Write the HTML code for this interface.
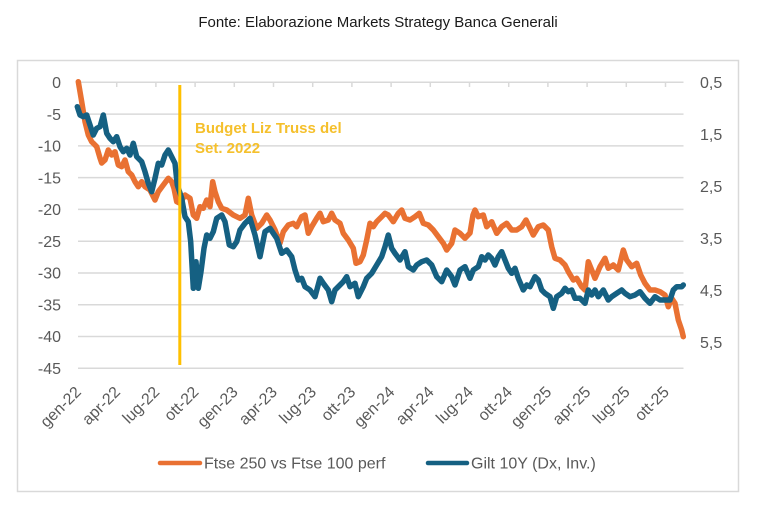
<!DOCTYPE html>
<html><head><meta charset="utf-8"><style>
html,body{margin:0;padding:0;background:#fff;}
body{width:763px;height:520px;overflow:hidden;}
svg{display:block;font-family:"Liberation Sans",Arial,sans-serif;}
</style></head><body>
<svg width="763" height="520" viewBox="0 0 763 520" xmlns="http://www.w3.org/2000/svg">
<rect x="0" y="0" width="763" height="520" fill="#fff"/>
<text x="378" y="27" font-size="15" fill="#1a1a1a" text-anchor="middle">Fonte: Elaborazione Markets Strategy Banca Generali</text>
<rect x="17.5" y="60.5" width="721" height="431" fill="#fff" stroke="#d9d9d9" stroke-width="1.5"/>
<g stroke="#d9d9d9" stroke-width="1.5">
<line x1="78" y1="82.3" x2="683.5" y2="82.3"/>
<line x1="78" y1="114.1" x2="683.5" y2="114.1"/>
<line x1="78" y1="145.9" x2="683.5" y2="145.9"/>
<line x1="78" y1="177.6" x2="683.5" y2="177.6"/>
<line x1="78" y1="209.4" x2="683.5" y2="209.4"/>
<line x1="78" y1="241.2" x2="683.5" y2="241.2"/>
<line x1="78" y1="273" x2="683.5" y2="273"/>
<line x1="78" y1="304.8" x2="683.5" y2="304.8"/>
<line x1="78" y1="336.5" x2="683.5" y2="336.5"/>
<line x1="78" y1="368.3" x2="683.5" y2="368.3"/>
</g>
<g stroke="#d9d9d9" stroke-width="1.5">
<line x1="116.7" y1="82" x2="116.7" y2="87"/><line x1="155.9" y1="82" x2="155.9" y2="87"/><line x1="195.1" y1="82" x2="195.1" y2="87"/><line x1="234.3" y1="82" x2="234.3" y2="87"/><line x1="273.5" y1="82" x2="273.5" y2="87"/><line x1="312.7" y1="82" x2="312.7" y2="87"/><line x1="351.9" y1="82" x2="351.9" y2="87"/><line x1="391.1" y1="82" x2="391.1" y2="87"/><line x1="430.3" y1="82" x2="430.3" y2="87"/><line x1="469.5" y1="82" x2="469.5" y2="87"/><line x1="508.7" y1="82" x2="508.7" y2="87"/><line x1="547.9" y1="82" x2="547.9" y2="87"/><line x1="587.1" y1="82" x2="587.1" y2="87"/><line x1="626.3" y1="82" x2="626.3" y2="87"/><line x1="665.5" y1="82" x2="665.5" y2="87"/>
</g>
<g font-size="16" fill="#595959" text-anchor="end">
<text x="61" y="88">0</text>
<text x="61" y="120">-5</text>
<text x="61" y="151.5">-10</text>
<text x="61" y="183.3">-15</text>
<text x="61" y="215">-20</text>
<text x="61" y="246.8">-25</text>
<text x="61" y="278.6">-30</text>
<text x="61" y="310.4">-35</text>
<text x="61" y="342.1">-40</text>
<text x="61" y="373.9">-45</text>
</g>
<g font-size="16" fill="#595959">
<text x="700" y="88">0,5</text>
<text x="700" y="140">1,5</text>
<text x="700" y="192">2,5</text>
<text x="700" y="244">3,5</text>
<text x="700" y="296">4,5</text>
<text x="700" y="348">5,5</text>
</g>
<g font-size="16" fill="#595959" text-anchor="end">
<text transform="translate(82,393) rotate(-45)">gen-22</text>
<text transform="translate(121.2,393) rotate(-45)">apr-22</text>
<text transform="translate(160.4,393) rotate(-45)">lug-22</text>
<text transform="translate(199.6,393) rotate(-45)">ott-22</text>
<text transform="translate(238.8,393) rotate(-45)">gen-23</text>
<text transform="translate(278,393) rotate(-45)">apr-23</text>
<text transform="translate(317.2,393) rotate(-45)">lug-23</text>
<text transform="translate(356.4,393) rotate(-45)">ott-23</text>
<text transform="translate(395.6,393) rotate(-45)">gen-24</text>
<text transform="translate(434.8,393) rotate(-45)">apr-24</text>
<text transform="translate(474,393) rotate(-45)">lug-24</text>
<text transform="translate(513.2,393) rotate(-45)">ott-24</text>
<text transform="translate(552.4,393) rotate(-45)">gen-25</text>
<text transform="translate(591.6,393) rotate(-45)">apr-25</text>
<text transform="translate(630.8,393) rotate(-45)">lug-25</text>
<text transform="translate(670,393) rotate(-45)">ott-25</text>
</g>
<polyline fill="none" stroke="#E97132" stroke-width="5.5" stroke-linejoin="round" stroke-linecap="round" points="78.3,81.7 81.7,101.7 85,121.7 88.3,135 91.7,141.7 96.7,146.7 100,158 101.7,163 105,160 108.3,150 111.7,155 115,151.7 118.3,165 121.7,166.7 125,160 128.3,171.7 131.7,175 135,181.7 138.3,186.7 141.7,181.7 145,186.7 150,190 155,200 158.3,191.7 163.3,185 168.3,178.3 171.7,181.7 174,188.3 176.7,201.7 180,203.3 185,195 190,198.3 193.3,215 196.7,218.3 200,206.7 203.3,208.3 206.7,200 210,206.7 212.7,181.7 215,191.7 218.3,201.7 221.7,208.3 226.7,210 233.3,215 240,218.3 245,215 248.3,198.3 251.7,215 256.7,228.3 261.7,223.3 266.7,215 270,220 275,230 280,243.3 283.3,231.7 288.3,225 293.3,223.3 296.7,226.7 301.7,216.7 305,215 308.3,233.3 311.7,226.7 316.7,218.3 320,213.3 323.3,221.7 328.3,220 331.7,213.3 335,220 340,223.3 343.3,233.3 348.3,240 353.3,248.3 356,263.3 360,261.7 363.3,255 366.7,240 370,223.3 373.3,226.7 376.7,221.7 381.7,216.7 385,213.3 388.3,215 393.3,221.7 398.3,213.3 401.7,210 405,218.3 410,220 415,216.7 419.3,213.3 423.3,223.3 428.3,225 433.3,230 438.3,236.7 443.3,243.3 446.7,250 451.7,243.3 455,230 460,233.3 465,238.3 470,233 473,215 475,210 478.3,216.7 483.3,215 486.7,226.7 491.7,221.7 496.7,233.3 501.7,226.7 506.7,223.3 511.7,230 516.7,230 521.7,226.7 526,220 529.3,226.7 533.3,235 538.3,226.7 543.3,225 548.3,230 551.7,246.7 555,258.3 560,260 565,265 568.3,271.7 573.3,280 576.7,278.3 581.7,286.7 585,290 588.3,261.7 591.7,270 595,278.3 600,266.7 605,258.3 608.3,268.3 613.3,265 618.3,270 623.3,250 626.7,260 631.7,266.7 636.7,263.3 640.7,275 645,283.3 650,290 655,290 660,291.7 665,295 668.3,306.7 671.7,298.3 675,303.3 678.3,320 681.7,330 683.3,336.7"/>
<polyline fill="none" stroke="#156082" stroke-width="5.5" stroke-linejoin="round" stroke-linecap="round" points="77.3,106.7 80,115 83.3,116.7 86.7,115 90,125 93.3,135 96.7,128.3 100,126.7 103.3,115 106.7,133.3 110,138.3 113.3,141.7 116.7,136.7 120,146.7 123.3,151.7 126.7,148.3 130,155 133.3,143.3 136.7,156.7 141.7,161.7 145,171.7 148.3,183.3 151.7,191.7 155,178.3 158.3,163.3 161.7,165 165,155 168.3,150 171.7,156.7 175,163.3 177.3,185 181.7,198.3 185,216.7 188.3,221.7 190.7,241.7 193.3,288.3 196,261.7 198.3,288.3 201,271.7 204,248.3 206.7,235 210,238.3 213.3,231.7 216.7,218.3 221.7,215 225,221.7 229.3,245 233.3,246.7 236.7,241.7 240,230 245,223.3 250,218.3 255,235 260,256.7 265,231.7 270,228.3 273.3,233.3 276.7,238.3 281.7,253.3 286.7,250 291.7,256.7 295,270 298.3,280 301.7,278.3 305,286.7 310,290 315,296.7 320,278.3 323.3,283.3 328.3,290 331.7,301.7 335,290 340,285 343.3,281.7 346.7,276.7 350,286.7 355,283.3 358.3,296.7 363.3,286.7 366.7,278.3 371.7,273.3 376.7,265 381.7,256.7 385,246.7 388.3,235 391.7,248.3 395,253.3 400,260 405,251.7 408.3,266.7 413.3,270 416.7,265 421.7,261.7 426.7,260 431.7,265 436.7,276.7 441.7,281.7 446.7,270 451.7,276.7 455,285 460,270 465,266.7 470,278.3 473.3,270 478.3,266.7 481.7,256.7 485,260 488.3,255 491.7,258.3 495,265 498.3,256.7 501.7,251.7 505,260 508.3,268.3 511.7,273.3 515,268.3 518.3,278.3 523.3,290 526.7,285 530,286.7 535,276.7 538.3,280 541.7,290 545,293.3 550,296.7 553.3,308.3 556.7,296.7 561.7,293.3 565,288.3 568.3,291.7 571.7,290 575,298.3 580,298.3 585,303.3 588.3,290 591.7,295 595,290 598.3,296.7 603.3,290 608.3,300 611.7,296.7 616.7,293.3 621.7,290 625,293.3 630,296.7 635,295 640,291.7 645,298.3 650,303.3 655,296.7 660,300 665,300 670,300 673.3,290 676.7,286.7 681.7,286.7 683.3,285"/>
<line x1="179.8" y1="85" x2="179.8" y2="365" stroke="#FFC000" stroke-width="3"/>
<g font-size="15" font-weight="bold" fill="#F5C02C">
<text x="195" y="133">Budget Liz Truss del</text>
<text x="195" y="153">Set. 2022</text>
</g>
<line x1="160" y1="463" x2="200" y2="463" stroke="#E97132" stroke-width="4.5" stroke-linecap="round"/>
<text x="204" y="468.5" font-size="16" fill="#595959">Ftse 250 vs Ftse 100 perf</text>
<line x1="428" y1="463" x2="467" y2="463" stroke="#156082" stroke-width="4.5" stroke-linecap="round"/>
<text x="471" y="468.5" font-size="16" fill="#595959">Gilt 10Y (Dx, Inv.)</text>
</svg>
</body></html>
